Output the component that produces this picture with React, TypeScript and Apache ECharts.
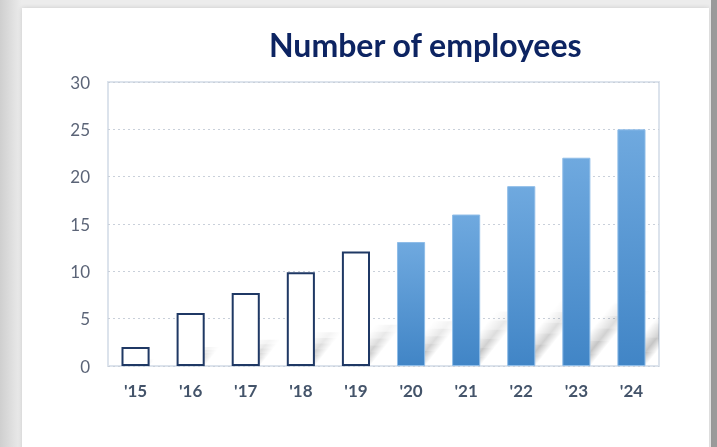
import React, { useEffect, useRef } from "react";
import * as echarts from "echarts";

const title = "Number of employees";
const years = ["'15", "'16", "'17", "'18", "'19", "'20", "'21", "'22", "'23", "'24"];
const employees = [2, 5.6, 7.7, 9.9, 12.1, 13.1, 16, 19, 22, 25];
const hollowCount = 5;
const yTicks = { min: 0, max: 30, interval: 5 };

const FONT = "Lato, 'Open Sans', sans-serif";

export default function App() {
  const ref = useRef<HTMLDivElement>(null);
  useEffect(() => {
    if (!ref.current) return;
    const chart = echarts.init(ref.current, undefined, { renderer: "svg" });
    const barData = employees.map((v, i) =>
      i < hollowCount
        ? { value: v, itemStyle: { color: "#ffffff", borderColor: "#1f3864", borderWidth: 2 } }
        : {
            value: v,
            itemStyle: {
              color: new echarts.graphic.LinearGradient(0, 0, 0, 1, [
                { offset: 0, color: "#6fa9df" },
                { offset: 1, color: "#4185c6" },
              ]),
              borderColor: "#8fbde8",
              borderWidth: 1,
            },
          }
    );
    chart.setOption({
      animation: false,
      backgroundColor: "transparent",
      graphic: [
        {
          type: "rect",
          z: -10,
          silent: true,
          shape: { x: 0, y: 0, width: 717, height: 447 },
          style: {
            fill: new echarts.graphic.LinearGradient(0, 0, 1, 0, [
              { offset: 0, color: "#cfcfcf" },
              { offset: 0.03, color: "#ececec" },
              { offset: 1, color: "#ececec" },
            ]),
          },
        },
        {
          type: "rect",
          z: -9,
          silent: true,
          shape: { x: 711, y: 0, width: 6, height: 447 },
          style: { fill: "#9a9a9a" },
        },
        {
          type: "rect",
          z: -8,
          silent: true,
          shape: { x: 22, y: 8, width: 687, height: 445 },
          style: { fill: "#ffffff", shadowBlur: 4, shadowColor: "rgba(0,0,0,0.15)" },
        },
      ],
      title: {
        text: title,
        left: 264,
        top: 23,
        textStyle: { fontFamily: FONT, fontWeight: "bold", fontSize: 32, color: "#0d2462" },
      },
      grid: {
        left: 108,
        right: 58,
        top: 82,
        bottom: 81,
        show: true,
        backgroundColor: "#ffffff",
        borderColor: "#dce3ec",
        borderWidth: 2,
      },
      xAxis: {
        type: "category",
        data: years,
        axisLine: { show: false },
        axisTick: { show: false },
        axisLabel: { margin: 16, fontFamily: FONT, fontWeight: "bold", fontSize: 17, color: "#44546a" },
      },
      yAxis: {
        type: "value",
        min: yTicks.min,
        max: yTicks.max,
        interval: yTicks.interval,
        axisLine: { show: false },
        axisTick: { show: false },
        axisLabel: { margin: 18, fontFamily: FONT, fontSize: 17, color: "#5b6477" },
        splitLine: { lineStyle: { color: "#c9d0da", type: [2, 3], width: 1 } },
      },
      series: [
        {
          type: "custom",
          z: 1,
          silent: true,
          clip: true,
          data: employees.map((v, i) => [i, v]),
          renderItem: (params: any, api: any) => {
            const idx = api.value(0);
            const val = api.value(1);
            const base = api.coord([idx, 0]);
            const top = api.coord([idx, val]);
            const w = api.size([1, 0])[0] * 0.51;
            const h = base[1] - top[1];
            const slope = 1.25;
            const len = h * 0.36;
            const xl = base[0] - w / 2;
            const xr = base[0] + w / 2;
            const y0 = base[1];
            const nx = slope / Math.hypot(1, slope);
            const ny = 1 / Math.hypot(1, slope);
            const dist = w * nx;
            const grad = new echarts.graphic.LinearGradient(
              xl, y0, xl + nx * dist, y0 + ny * dist,
              [
                { offset: 0, color: "rgba(0,0,0,0)" },
                { offset: 0.6, color: "rgba(0,0,0,0.27)" },
                { offset: 1, color: "rgba(0,0,0,0)" },
              ],
              true
            );
            const segs = 6;
            const children: any[] = [];
            for (let k = 0; k < segs; k++) {
              const d1 = (len * k) / segs;
              const d2 = (len * (k + 1)) / segs;
              children.push({
                type: "polygon",
                shape: {
                  points: [
                    [xl + d1 / slope, y0 - d1],
                    [xr + d1 / slope, y0 - d1],
                    [xr + d2 / slope, y0 - d2],
                    [xl + d2 / slope, y0 - d2],
                  ],
                },
                style: { fill: grad, opacity: 1 - k / segs },
              });
            }
            return { type: "group", children };
          },
        },
        {
          type: "bar",
          z: 2,
          barWidth: "51%",
          data: barData,
        },
      ],
    });
    return () => chart.dispose();
  }, []);
  return (
    <div
      ref={ref}
      style={{ position: "fixed", left: 0, top: 0, width: 717, height: 447 }}
    />
  );
}
